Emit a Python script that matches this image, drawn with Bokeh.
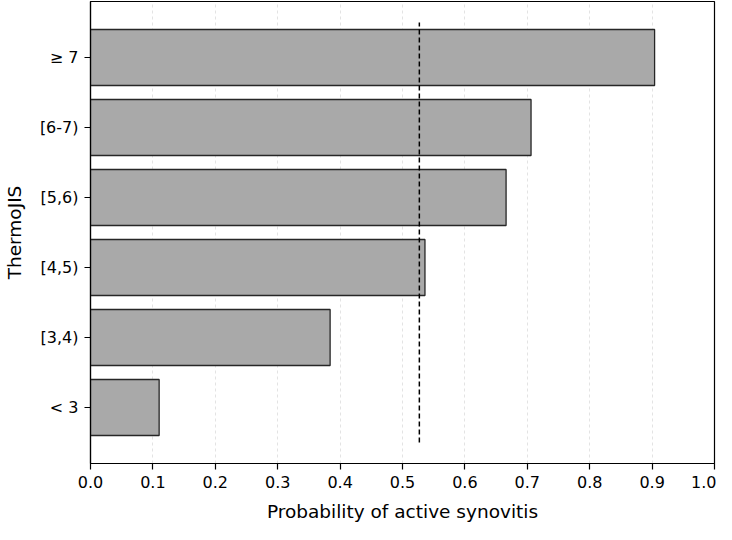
from bokeh.plotting import figure
from bokeh.models import Range1d, FixedTicker, PrintfTickFormatter, ColumnDataSource
from bokeh.embed import file_html
from bokeh.resources import INLINE

# Data
categories = ["< 3", "[3,4)", "[4,5)", "[5,6)", "[6-7)", "\u2265 7"]
probabilities = [0.110, 0.384, 0.536, 0.666, 0.706, 0.904]
threshold = 0.527
x_ticks = [0.0, 0.1, 0.2, 0.3, 0.4, 0.5, 0.6, 0.7, 0.8, 0.9, 1.0]

positions = list(range(len(categories)))

p = figure(width=716, height=524, output_backend="svg", toolbar_location=None,
           x_range=Range1d(0, 1.0), y_range=Range1d(-0.8, len(categories) - 0.2),
           min_border_left=84, min_border_right=2, min_border_top=1, min_border_bottom=60)

src = ColumnDataSource(dict(y=positions, right=probabilities))
p.hbar(y="y", right="right", left=0, height=0.8, source=src,
       fill_color="#a9a9a9", line_color="#262626", line_width=1.3)

p.segment(x0=[threshold], x1=[threshold], y0=[-0.5], y1=[len(categories) - 0.5],
          line_color="black", line_width=1.5, line_dash="5 3")

# Axes
p.xaxis.ticker = FixedTicker(ticks=x_ticks)
p.xaxis.formatter = PrintfTickFormatter(format="%.1f")
p.yaxis.ticker = FixedTicker(ticks=positions)
p.yaxis.major_label_overrides = {i: c for i, c in zip(positions, categories)}

p.xaxis.axis_label = "Probability of active synovitis"
p.yaxis.axis_label = "ThermoJIS"

for ax in (p.xaxis, p.yaxis):
    ax.axis_label_text_font = "DejaVu Sans"
    ax.axis_label_text_font_size = "18.5px"
    ax.axis_label_text_font_style = "normal"
    ax.axis_label_text_color = "black"
    ax.major_label_text_font = "DejaVu Sans"
    ax.major_label_text_font_size = "16px"
    ax.major_label_text_color = "black"
    ax.axis_line_color = "black"
    ax.axis_line_width = 1.2
    ax.major_tick_line_color = "black"
    ax.major_tick_line_width = 1.2
    ax.major_tick_out = 6
    ax.major_tick_in = 0
    ax.minor_tick_line_color = None

p.xaxis.major_label_standoff = 6
p.xaxis.axis_label_standoff = 10
p.yaxis.major_label_standoff = 6
p.yaxis.axis_label_standoff = 12

p.xgrid.grid_line_color = "#dcdcdc"
p.xgrid.grid_line_dash = "3 3"
p.xgrid.grid_line_width = 0.8
p.ygrid.grid_line_color = None

p.outline_line_color = "black"
p.outline_line_width = 1.2
p.outline_line_alpha = 1.0

open("out.html", "w").write(file_html(p, INLINE))
